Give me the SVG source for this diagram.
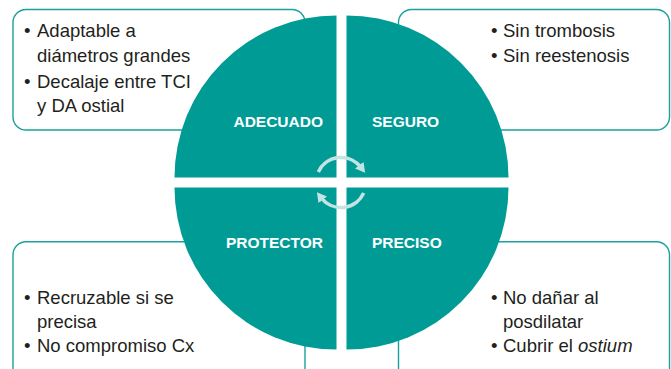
<svg xmlns="http://www.w3.org/2000/svg" width="671" height="369" viewBox="0 0 671 369">
<defs>
<style>
.box{fill:#fff;stroke:#1aa19c;stroke-width:1.4}
.q{fill:#019b96}
.t{font-family:"Liberation Sans",Arial,sans-serif;font-size:18.5px;fill:#231f20}
.lbl{font-family:"Liberation Sans",Arial,sans-serif;font-size:15.5px;font-weight:bold;fill:#fff}
.arc{fill:none;stroke:#c4e4e3;stroke-width:3.5}
</style>
<marker id="ah" markerUnits="userSpaceOnUse" markerWidth="12" markerHeight="12" viewBox="0 0 10 10" refX="2" refY="5" orient="auto">
<path d="M0,0.5 L8,5 L0,9.5 Z" fill="#c4e4e3"/>
</marker>
</defs>
<g id="box-tl">
<rect class="box" x="13" y="9.5" width="292" height="120.5" rx="13"/>
<text class="t"><tspan x="24" y="37">•</tspan><tspan x="37" y="37">Adaptable a</tspan><tspan x="37" y="62">diámetros grandes</tspan><tspan x="24" y="88">•</tspan><tspan x="37" y="88">Decalaje entre TCI</tspan><tspan x="37" y="112">y DA ostial</tspan></text>
</g>
<g id="box-tr">
<rect class="box" x="398.5" y="9.5" width="271" height="120.5" rx="13"/>
<text class="t"><tspan x="491" y="37">•</tspan><tspan x="503" y="37">Sin trombosis</tspan><tspan x="491" y="62">•</tspan><tspan x="503" y="62">Sin reestenosis</tspan></text>
</g>
<g id="box-bl">
<rect class="box" x="13" y="241.7" width="292" height="150" rx="13"/>
<text class="t"><tspan x="24" y="304">•</tspan><tspan x="37" y="304">Recruzable si se</tspan><tspan x="37" y="328">precisa</tspan><tspan x="24" y="352">•</tspan><tspan x="37" y="352">No compromiso Cx</tspan></text>
</g>
<g id="box-br">
<rect class="box" x="398.5" y="241.7" width="271" height="150" rx="13"/>
<text class="t"><tspan x="491" y="304">•</tspan><tspan x="503" y="304">No dañar al</tspan><tspan x="503" y="328">posdilatar</tspan><tspan x="491" y="352">•</tspan><tspan x="503" y="352">Cubrir el <tspan font-style="italic">ostium</tspan></tspan></text>
</g>
<g id="q-adecuado">
<path class="q" d="M336.5,177.5 L174.5,177.5 A162,162 0 0 1 336.5,15.5 Z"/>
<text class="lbl" x="323" y="127" text-anchor="end">ADECUADO</text>
</g>
<g id="q-seguro">
<path class="q" d="M346.5,177.5 L346.5,15.5 A162,162 0 0 1 508.5,177.5 Z"/>
<text class="lbl" x="372" y="127">SEGURO</text>
</g>
<g id="q-protector">
<path class="q" d="M336.5,187.5 L336.5,349.5 A162,162 0 0 1 174.5,187.5 Z"/>
<text class="lbl" x="323" y="248" text-anchor="end">PROTECTOR</text>
</g>
<g id="q-preciso">
<path class="q" d="M346.5,187.5 L508.5,187.5 A162,162 0 0 1 346.5,349.5 Z"/>
<text class="lbl" x="372" y="248">PRECISO</text>
</g>
<g id="connectors">
<path class="arc" d="M318.3,171.9 A25,25 0 0 1 360.7,167.1" marker-end="url(#ah)"/>
<path class="arc" d="M363.7,193.1 A25,25 0 0 1 321.3,197.9" marker-end="url(#ah)"/>
</g>
</svg>
